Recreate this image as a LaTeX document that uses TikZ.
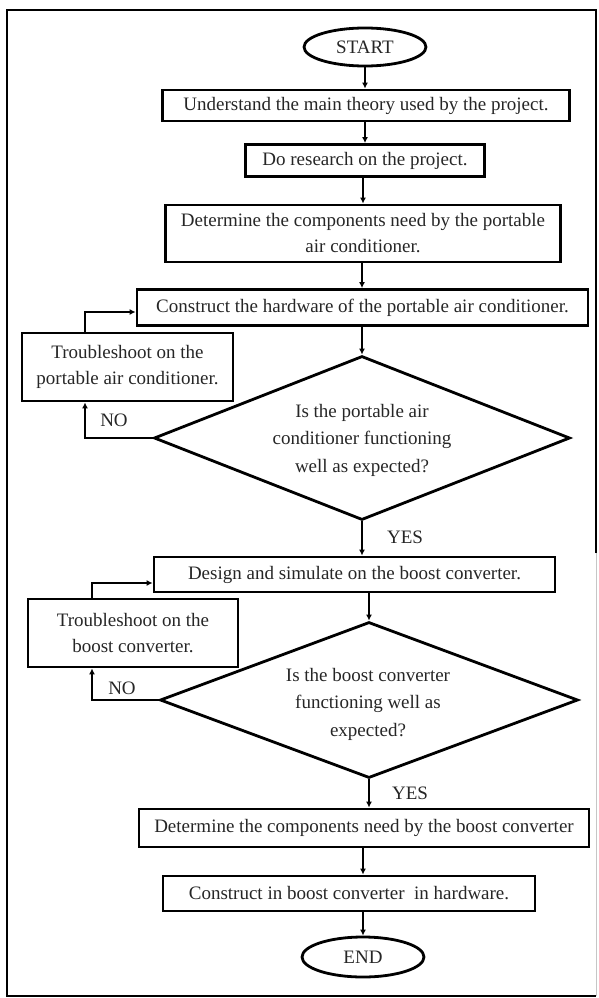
\documentclass[tikz,border=0pt]{standalone}
\usepackage{fontspec}
\setmainfont{Liberation Serif}
\usetikzlibrary{shapes.geometric,arrows.meta}
\begin{document}
\begin{tikzpicture}[x=1pt,y=-1pt,
  every node/.style={font=\fontsize{19}{26}\selectfont, text=black!85},
  box/.style={draw, line width=2.8pt, inner sep=0pt, align=center},
  term/.style={draw, ellipse, line width=2.8pt, inner sep=0pt, minimum width=122pt, minimum height=38pt},
  dec/.style={draw, diamond, line width=2.8pt, inner sep=0pt},
  dtext/.style={align=center, inner sep=0pt, font=\fontsize{19}{27.5}\selectfont},
  lbl/.style={inner sep=0pt},
  arr/.style={line width=2.8pt, -{Latex[length=6pt,width=6pt]}},
  frame/.style={line width=2.2pt}
]
\useasboundingbox (0,0) rectangle (598,998);
\draw[frame] (596,553) -- (596,10) -- (7,10) -- (7,996) -- (596,996);
\draw[gray!45, line width=1pt] (596,553) -- (596,996);

\node[term] (start) at (365,47) {START};
\node[box, minimum width=407pt, minimum height=31pt] (b1) at (366,105.5) {Understand the main theory used by the project.};
\node[box, minimum width=239pt, minimum height=32pt] (b2) at (365,160.5) {Do research on the project.};
\node[box, minimum width=395pt, minimum height=57pt] (b3) at (363,233.5) {Determine the components need by the portable\\air conditioner.};
\node[box, minimum width=451pt, minimum height=36pt] (b4) at (362.5,307.5) {Construct the hardware of the portable air conditioner.};
\node[box, minimum width=211pt, minimum height=68pt] (t1) at (127.5,367) {Troubleshoot on the\\portable air conditioner.};
\node[dec, minimum width=416pt, minimum height=164pt] (d1) at (362,438) {};
\node[dtext] (d1t) at (362,440) {Is the portable air\\conditioner functioning\\well as expected?};
\node[lbl] (no1) at (114,420) {NO};
\node[lbl] (yes1) at (405,537) {YES};
\node[box, minimum width=401pt, minimum height=35pt] (b5) at (354.5,574.5) {Design and simulate on the boost converter.};
\node[box, minimum width=210pt, minimum height=68pt] (t2) at (133,633) {Troubleshoot on the\\boost converter.};
\node[dec, minimum width=418pt, minimum height=156pt] (d2) at (369,700) {};
\node[dtext] (d2t) at (368,704) {Is the boost converter\\functioning well as\\expected?};
\node[lbl] (no2) at (122,688) {NO};
\node[lbl] (yes2) at (410,793) {YES};
\node[box, minimum width=450pt, minimum height=38pt] (b6) at (364,828) {Determine the components need by the boost converter};
\node[box, minimum width=372pt, minimum height=35pt] (b7) at (349,893.5) {Construct in boost converter \ in hardware.};
\node[term, minimum height=40pt] (end) at (363,957) {END};

\draw[arr] (start.south) -- (start.south |- b1.north);
\draw[arr] (b1.south -| b2.north) -- (b2.north);
\draw[arr] (b2.south -| b3.north) -- (b3.north);
\draw[arr] (b3.south -| d1.north) -- (b4.north -| d1.north);
\draw[arr] (b4.south -| d1.north) -- (d1.north);
\draw[arr] (d1.south) -- (d1.south |- b5.north);
\draw[arr] (b5.south -| d2.north) -- (d2.north);
\draw[arr] (d2.south) -- (d2.south |- b6.north);
\draw[arr] (b6.south -| end.north) -- (b7.north -| end.north);
\draw[arr] (b7.south -| end.north) -- (end.north);

\draw[arr] (d1.west) -| ([xshift=-42.5pt]t1.south);
\draw[arr] ([xshift=-42.5pt]t1.north) |- ([yshift=-4.5pt]b4.west);
\draw[arr] (d2.west) -| ([xshift=-41pt]t2.south);
\draw[arr] ([xshift=-41pt]t2.north) |- ([yshift=-8.5pt]b5.west);
\end{tikzpicture}
\end{document}
